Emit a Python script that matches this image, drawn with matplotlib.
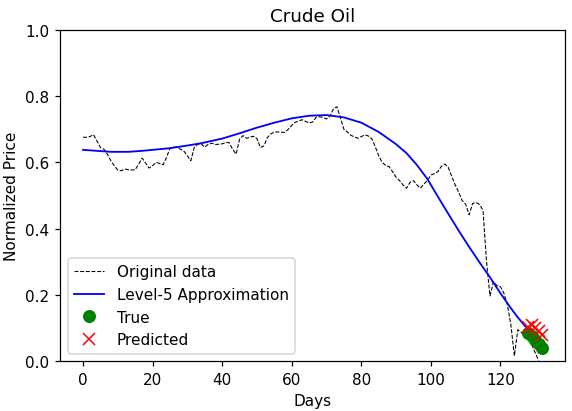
import matplotlib
matplotlib.use("Agg")
import matplotlib.pyplot as plt

title = "Crude Oil"
x_label = "Days"
y_label = "Normalized Price"

original_values = [
    0.676, 0.676, 0.678, 0.684, 0.665, 0.645, 0.640, 0.625, 0.605, 0.590,
    0.577, 0.575, 0.580, 0.578, 0.577, 0.578, 0.595, 0.613, 0.598, 0.583,
    0.590, 0.600, 0.597, 0.593, 0.615, 0.643, 0.646, 0.646, 0.640, 0.634,
    0.620, 0.605, 0.646, 0.655, 0.656, 0.646, 0.655, 0.658, 0.654, 0.655,
    0.656, 0.660, 0.660, 0.640, 0.625, 0.670, 0.681, 0.673, 0.676, 0.679,
    0.672, 0.645, 0.650, 0.675, 0.686, 0.692, 0.692, 0.691, 0.691, 0.700,
    0.712, 0.721, 0.725, 0.729, 0.724, 0.719, 0.722, 0.736, 0.738, 0.736,
    0.731, 0.740, 0.762, 0.768, 0.735, 0.700, 0.692, 0.682, 0.677, 0.673,
    0.678, 0.683, 0.680, 0.672, 0.648, 0.620, 0.600, 0.591, 0.587, 0.572,
    0.555, 0.545, 0.532, 0.522, 0.540, 0.545, 0.532, 0.522, 0.535, 0.545,
    0.562, 0.566, 0.572, 0.588, 0.595, 0.585, 0.558, 0.532, 0.510, 0.485,
    0.474, 0.442, 0.476, 0.479, 0.473, 0.455, 0.300, 0.197, 0.240, 0.228,
    0.225, 0.205, 0.170, 0.110, 0.016, 0.095, 0.087, 0.075, 0.065, 0.050,
    0.025, 0.002,
]
original_days = list(range(len(original_values)))

approx_days = [0, 4, 8, 13, 17, 21, 25, 30, 34, 40, 45, 50, 55, 60, 65, 70,
               75, 80, 85, 90, 93, 96, 99, 102, 105, 108, 111, 114, 117, 120,
               123, 125, 127, 129, 131]
approx_values = [0.638, 0.635, 0.632, 0.632, 0.635, 0.639, 0.643, 0.651, 0.658,
                 0.672, 0.688, 0.705, 0.720, 0.733, 0.741, 0.743, 0.736, 0.720,
                 0.692, 0.655, 0.628, 0.592, 0.550, 0.497, 0.445, 0.394, 0.345,
                 0.298, 0.253, 0.205, 0.160, 0.132, 0.107, 0.083, 0.060]

true_days = [128, 129, 130, 131, 132]
true_values = [0.085, 0.075, 0.064, 0.052, 0.040]

pred_days = [128, 129, 130, 131, 132]
pred_values = [0.103, 0.110, 0.100, 0.092, 0.080]

fig, ax = plt.subplots(figsize=(5.2, 3.745), dpi=110)
fig.subplots_adjust(left=0.105, right=0.988, top=0.925, bottom=0.121)

ax.plot(original_days, original_values, 'k--', linewidth=0.7, label="Original data")
ax.plot(approx_days, approx_values, 'b-', linewidth=1.2, label="Level-5 Approximation")
ax.plot(true_days, true_values, 'go', markersize=7.5, linestyle='none', label="True")
ax.plot(pred_days, pred_values, 'rx', markersize=7.5, linestyle='none', label="Predicted")

ax.set_ylim(0, 1.0)
ax.set_title(title)
ax.set_xlabel(x_label)
ax.set_ylabel(y_label)
ax.legend(loc="lower left")

fig.savefig("out.png", dpi=110)
